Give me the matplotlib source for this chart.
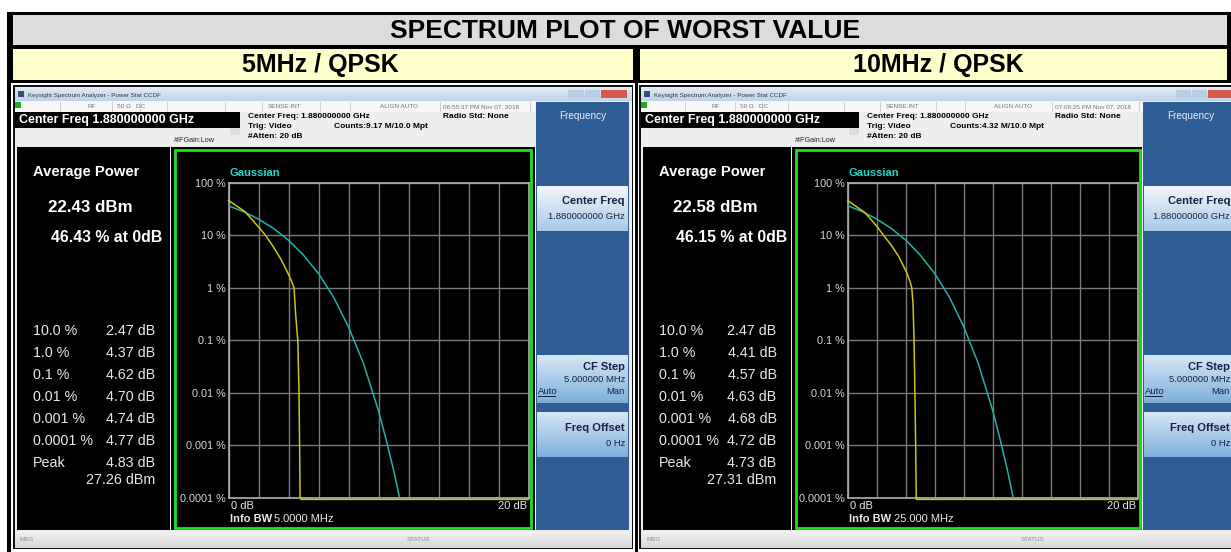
import matplotlib
matplotlib.use("Agg")
import matplotlib.pyplot as plt
from matplotlib.patches import Rectangle
import numpy as np

plt.rcParams['font.family'] = ['Liberation Sans', 'DejaVu Sans']

W, H = 1231, 552

title = "SPECTRUM PLOT OF WORST VALUE"
panel_titles = ["5MHz / QPSK", "10MHz / QPSK"]

# analyzer readouts for each capture
avg_power = ["22.43 dBm", "22.58 dBm"]
pct_at_0db = [46.43, 46.15]
stat_labels = ["10.0 %", "1.0 %", "0.1 %", "0.01 %", "0.001 %", "0.0001 %", "Peak"]
stat_levels = [10, 1, 0.1, 0.01, 0.001, 0.0001]
stat_values = [[2.47, 4.37, 4.62, 4.70, 4.74, 4.77, 4.83],
               [2.47, 4.41, 4.57, 4.63, 4.68, 4.72, 4.73]]
peak_dbm = ["27.26 dBm", "27.31 dBm"]
info_bw = ["5.0000 MHz", "25.000 MHz"]
timestamps = ["06:55:37 PM Nov 07, 2018", "07:08:25 PM Nov 07, 2018"]
counts = ["Counts:9.17 M/10.0 Mpt", "Counts:4.32 M/10.0 Mpt"]

# extra points on the measured trace between the readout levels (dB, %)
shoulder_db = [[1.1, 2.0, 3.0, 3.5, 4.0, 4.2, 4.48],
               [1.2, 2.0, 3.0, 3.5, 4.05, 4.3, 4.5]]
shoulder_pct = [[28.4, 14.5, 6.0, 3.5, 1.8, 1.35, 0.3],
                [27.0, 15.0, 6.5, 4.0, 2.0, 1.3, 0.5]]

# Gaussian reference trace
gauss_db = [0, 1, 2, 3, 4, 5, 6, 7, 8, 9, 10, 10.5, 11, 11.4]
gauss_pct = [36.8, 28.4, 20.5, 13.6, 8.1, 4.2, 1.87, 0.67, 0.18, 0.036,
             0.0045, 0.0013, 0.00034, 0.0001]

y_ticks = [100, 10, 1, 0.1, 0.01, 0.001, 0.0001]
y_ticklabels = ["100 %", "10 %", "1 %", "0.1 %", "0.01 %", "0.001 %", "0.0001 %"]
x_grid = list(range(0, 21, 2))

fig = plt.figure(figsize=(W / 100, H / 100), dpi=100)
bg = fig.add_axes([0, 0, 1, 1])
bg.set_xlim(0, W)
bg.set_ylim(H, 0)
bg.axis('off')


def rect(x0, y0, x1, y1, color, z=1, **kw):
    bg.add_patch(Rectangle((x0, y0), x1 - x0, y1 - y0, facecolor=color,
                           edgecolor='none', zorder=z, **kw))


def vgrad(x0, y0, x1, y1, top, bottom, z=2):
    c0 = np.array(matplotlib.colors.to_rgb(top))
    c1 = np.array(matplotlib.colors.to_rgb(bottom))
    t = np.linspace(0, 1, 32)[:, None, None]
    img = c0 * (1 - t) + c1 * t
    bg.imshow(img, extent=(x0, x1, y1, y0), aspect='auto', zorder=z,
              interpolation='bilinear')


def txt(x, y, s, size, color='black', weight='normal', ha='left', z=5, **kw):
    bg.text(x, y, s, fontsize=size, color=color, fontweight=weight,
            ha=ha, va='center', zorder=z, **kw)


# table frame
rect(7, 12, W, H, 'black', z=0)
rect(13, 15, 1227, 45, '#dcdcdc')
rect(13, 49, 633, 80, '#ffffcc')
rect(640, 49, 1227, 80, '#ffffcc')
txt(625, 30.5, title, 19, weight='bold', ha='center')
txt(320, 65, panel_titles[0], 18, weight='bold', ha='center')
txt(938, 65, panel_titles[1], 18, weight='bold', ha='center')
rect(11, 83, 635, H, 'white', z=0.5)
rect(638, 83, W, H, 'white', z=0.5)


def draw_panel(i, ox, sx, sk_left, sk_right):
    fx = lambda u: ox + sx * u

    # window frame and title bar
    rect(fx(13), 85, fx(633), 549, '#111111', z=0.8)
    rect(fx(15), 87, fx(632), 548, '#eeeeee', z=0.9)
    vgrad(fx(15), 88, fx(632), 101, '#dfeaf6', '#bed3ea')
    rect(fx(18), 91, fx(24), 97, '#39507a', z=3)
    txt(fx(28), 95, "Keysight Spectrum Analyzer - Power Stat CCDF", 4.5,
        color='#333333')
    rect(fx(568), 90, fx(584), 98, '#b8cfe8', z=3)
    rect(fx(585), 90, fx(600), 98, '#b8cfe8', z=3)
    rect(fx(601), 90, fx(627), 98, '#d8584c', z=3)

    # status strip
    rect(fx(15), 101, sk_left, 112, '#f7f7f7', z=2)
    rect(fx(15), 102, fx(21), 108, '#22aa22', z=3)
    for u in [60, 112, 140, 167, 225, 262, 320, 350, 440, 530]:
        bg.plot([fx(u), fx(u)], [102, 111], color='#c8c8c8', lw=0.6, zorder=3)
    for u, s in [(87, "RF"), (117, "50 \u03a9   DC"), (268, "SENSE:INT"),
                 (380, "ALIGN AUTO"), (443, timestamps[i])]:
        txt(fx(u), 107, s, 4.6, color='#777777')

    # measurement header
    rect(fx(15), 112, fx(240), 128, 'black', z=3)
    txt(fx(19), 120, "Center Freq 1.880000000 GHz", 9, color='white',
        weight='bold')
    txt(fx(248), 117, "Center Freq: 1.880000000 GHz", 6, weight='bold')
    txt(fx(248), 126, "Trig: Video", 6, weight='bold')
    txt(fx(248), 136, "#Atten: 20 dB", 6, weight='bold')
    txt(fx(334), 126, counts[i], 6, weight='bold')
    txt(fx(443), 117, "Radio Std: None", 6, weight='bold')
    txt(fx(174), 141, "#IFGain:Low", 5.2, color='#222222')
    rect(fx(230), 128, fx(240), 135, '#dddddd', z=3)

    # softkey column
    rect(sk_left, 102, sk_right, 530, '#2f5e96', z=2)
    txt((sk_left + sk_right) / 2 if i == 0 else sk_left + 48, 116,
        "Frequency", 7.2, color='#e6eef7', ha='center')
    tx = sk_right - 4
    vgrad(sk_left + 1, 186, sk_right - 1, 231, '#f2f6fb', '#a9c9e8', z=3)
    txt(tx, 201, "Center Freq", 8, color='#14233f', weight='bold', ha='right')
    txt(tx, 216.5, "1.880000000 GHz", 6.8, color='#14233f', ha='right')
    vgrad(sk_left + 1, 355, sk_right - 1, 403, '#d6e6f5', '#7fb0dc', z=3)
    txt(tx, 367.5, "CF Step", 8, color='#14233f', weight='bold', ha='right')
    txt(tx, 379, "5.000000 MHz", 6.8, color='#14233f', ha='right')
    txt(sk_left + 2, 391.5, "Auto", 6.8, color='#14233f')
    bg.plot([sk_left + 2, sk_left + 19], [395.5, 395.5], color='#14233f',
            lw=0.7, zorder=5)
    txt(tx, 391.5, "Man", 6.8, color='#14233f', ha='right')
    vgrad(sk_left + 1, 412, sk_right - 1, 457, '#d6e6f5', '#7fb0dc', z=3)
    txt(tx, 428, "Freq Offset", 8, color='#14233f', weight='bold', ha='right')
    txt(tx, 444, "0 Hz", 6.8, color='#14233f', ha='right')

    # bottom message bar
    vgrad(fx(15), 531, fx(632), 548, '#f2f2f2', '#d8d8d8', z=2)
    txt(fx(20), 539.5, "MSG", 4.5, color='#888888')
    txt(fx(407), 539.5, "STATUS", 4.5, color='#888888')

    # statistics readout
    rect(fx(17), 147, fx(170), 530, 'black', z=2)
    rect(fx(171), 147, sk_left - 1, 530, 'black', z=2)
    bg.add_patch(Rectangle((fx(175), 150), fx(531) - fx(175), 378,
                           facecolor='none', edgecolor='#22e022', lw=2,
                           zorder=4))
    txt(fx(33), 172, "Average Power", 10.6, color='white', weight='bold')
    txt(fx(48), 208, avg_power[i], 12.2, color='white', weight='bold')
    txt(fx(51), 237, f"{pct_at_0db[i]:.2f} % at 0dB", 11.4, color='white',
        weight='bold')
    for k, lab in enumerate(stat_labels):
        y = 331 + 22 * k
        txt(fx(33), y, lab, 10.3, color='#e8e8e8')
        txt(fx(155), y, f"{stat_values[i][k]:.2f} dB", 10.3, color='#e8e8e8',
            ha='right')
    txt(fx(155), 480, peak_dbm[i], 10.3, color='#e8e8e8', ha='right')

    # CCDF graticule
    x0, x1 = fx(228.5), fx(528.5)
    y0, y1 = 183, 497.5
    ax = fig.add_axes([x0 / W, 1 - y1 / H, (x1 - x0) / W, (y1 - y0) / H])
    ax.set_facecolor('black')
    ax.set_yscale('log')
    ax.set_xlim(0, 20)
    ax.set_ylim(1e-4, 100)
    ax.set_xticks(x_grid)
    ax.set_yticks(y_ticks)
    ax.yaxis.set_minor_locator(matplotlib.ticker.NullLocator())
    ax.set_yticklabels(y_ticklabels)
    ax.set_xticklabels([])
    ax.tick_params(length=0, pad=2, labelsize=7.8, labelcolor='#d8d8d8')
    ax.grid(True, color='#7a7a7a', lw=1.0)
    for sp in ax.spines.values():
        sp.set_color('#b0b0b0')
        sp.set_linewidth(1.2)

    ax.plot(gauss_db, gauss_pct, color='#1fb3a6', lw=1.1, zorder=4)

    db = [0] + shoulder_db[i] + stat_values[i][:6]
    pct = [pct_at_0db[i]] + shoulder_pct[i] + stat_levels
    order = np.argsort(db)
    db = list(np.array(db)[order]) + [stat_values[i][6], 20]
    pct = list(np.array(pct)[order]) + [0.92e-4, 0.92e-4]
    ax.plot(db, pct, color='#c8c814', lw=1.1, zorder=5, clip_on=False)

    ax.text(0.003, 1.015, "Gaussian", transform=ax.transAxes, color='#22d8cc',
            fontsize=8, fontweight='bold', va='bottom')
    ax.text(0.008, -0.012, "0 dB", transform=ax.transAxes, color='#e8e8e8',
            fontsize=8, va='top')
    ax.text(0.995, -0.012, "20 dB", transform=ax.transAxes, color='#e8e8e8',
            fontsize=8, va='top', ha='right')

    # bandwidth line under the graticule
    txt(fx(229.5), 518.5, "Info BW", 8, color='#e8e8e8', weight='bold')
    txt(fx(229.5) + 45, 518.5, info_bw[i], 8, color='#e8e8e8')


draw_panel(0, 0.0, 1.0, 536, 629)
draw_panel(1, 626.9, 0.9667, 1143, 1234)

fig.savefig("out.png", dpi=100)
